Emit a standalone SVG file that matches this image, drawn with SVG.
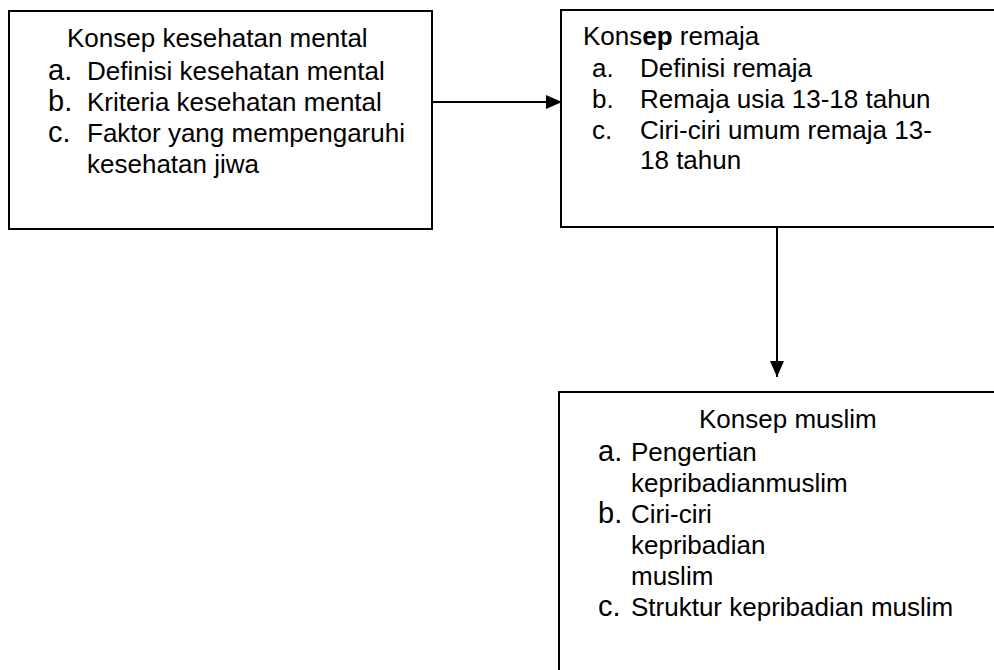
<svg xmlns="http://www.w3.org/2000/svg" width="994" height="670" viewBox="0 0 994 670">
<style>
.box{fill:#fff;stroke:#000;stroke-width:2}
.t{font-family:"Liberation Sans",Arial,sans-serif;font-size:26px;fill:#000}
.m{font-size:29px}
.ln{stroke:#000;stroke-width:2;fill:none}
</style>
<defs>
<marker id="ah" markerWidth="16" markerHeight="14" refX="16" refY="7" orient="auto" markerUnits="userSpaceOnUse">
<path d="M0,0 L16,7 L0,14 Z" fill="#000"/>
</marker>
</defs>
<rect width="994" height="670" fill="#fff"/>
<g id="node-kesehatan">
<rect class="box" x="9" y="11" width="423" height="218"/>
<text class="t" x="67" y="47">Konsep kesehatan mental</text>
<text class="t m" x="48" y="80">a.</text><text class="t" x="87" y="80">Definisi kesehatan mental</text>
<text class="t m" x="48" y="111">b.</text><text class="t" x="87" y="111">Kriteria kesehatan mental</text>
<text class="t m" x="48" y="142">c.</text><text class="t" x="87" y="142">Faktor yang mempengaruhi</text>
<text class="t" x="87" y="173">kesehatan jiwa</text>
</g>
<g id="node-remaja">
<rect class="box" x="561" y="10" width="440" height="217"/>
<text class="t" x="583" y="45">Kons<tspan font-weight="bold">ep</tspan> remaja</text>
<text class="t" x="592" y="77">a.</text><text class="t" x="640" y="77">Definisi remaja</text>
<text class="t" x="592" y="108">b.</text><text class="t" x="640" y="108">Remaja usia 13-18 tahun</text>
<text class="t" x="592" y="139">c.</text><text class="t" x="640" y="139">Ciri-ciri umum remaja 13-</text>
<text class="t" x="640" y="169">18 tahun</text>
</g>
<g id="node-muslim">
<rect class="box" x="559" y="392" width="442" height="290"/>
<text class="t" x="699" y="428">Konsep muslim</text>
<text class="t m" x="598" y="461">a.</text><text class="t" x="631" y="461">Pengertian</text>
<text class="t" x="631" y="492">kepribadianmuslim</text>
<text class="t m" x="598" y="523">b.</text><text class="t" x="631" y="523">Ciri-ciri</text>
<text class="t" x="631" y="554">kepribadian</text>
<text class="t" x="631" y="585">muslim</text>
<text class="t m" x="598" y="616">c.</text><text class="t" x="631" y="616">Struktur kepribadian muslim</text>
</g>
<g id="connectors">
<line class="ln" x1="432" y1="102" x2="562" y2="102" marker-end="url(#ah)"/>
<line class="ln" x1="777" y1="227" x2="777" y2="377" marker-end="url(#ah)"/>
</g>
</svg>
